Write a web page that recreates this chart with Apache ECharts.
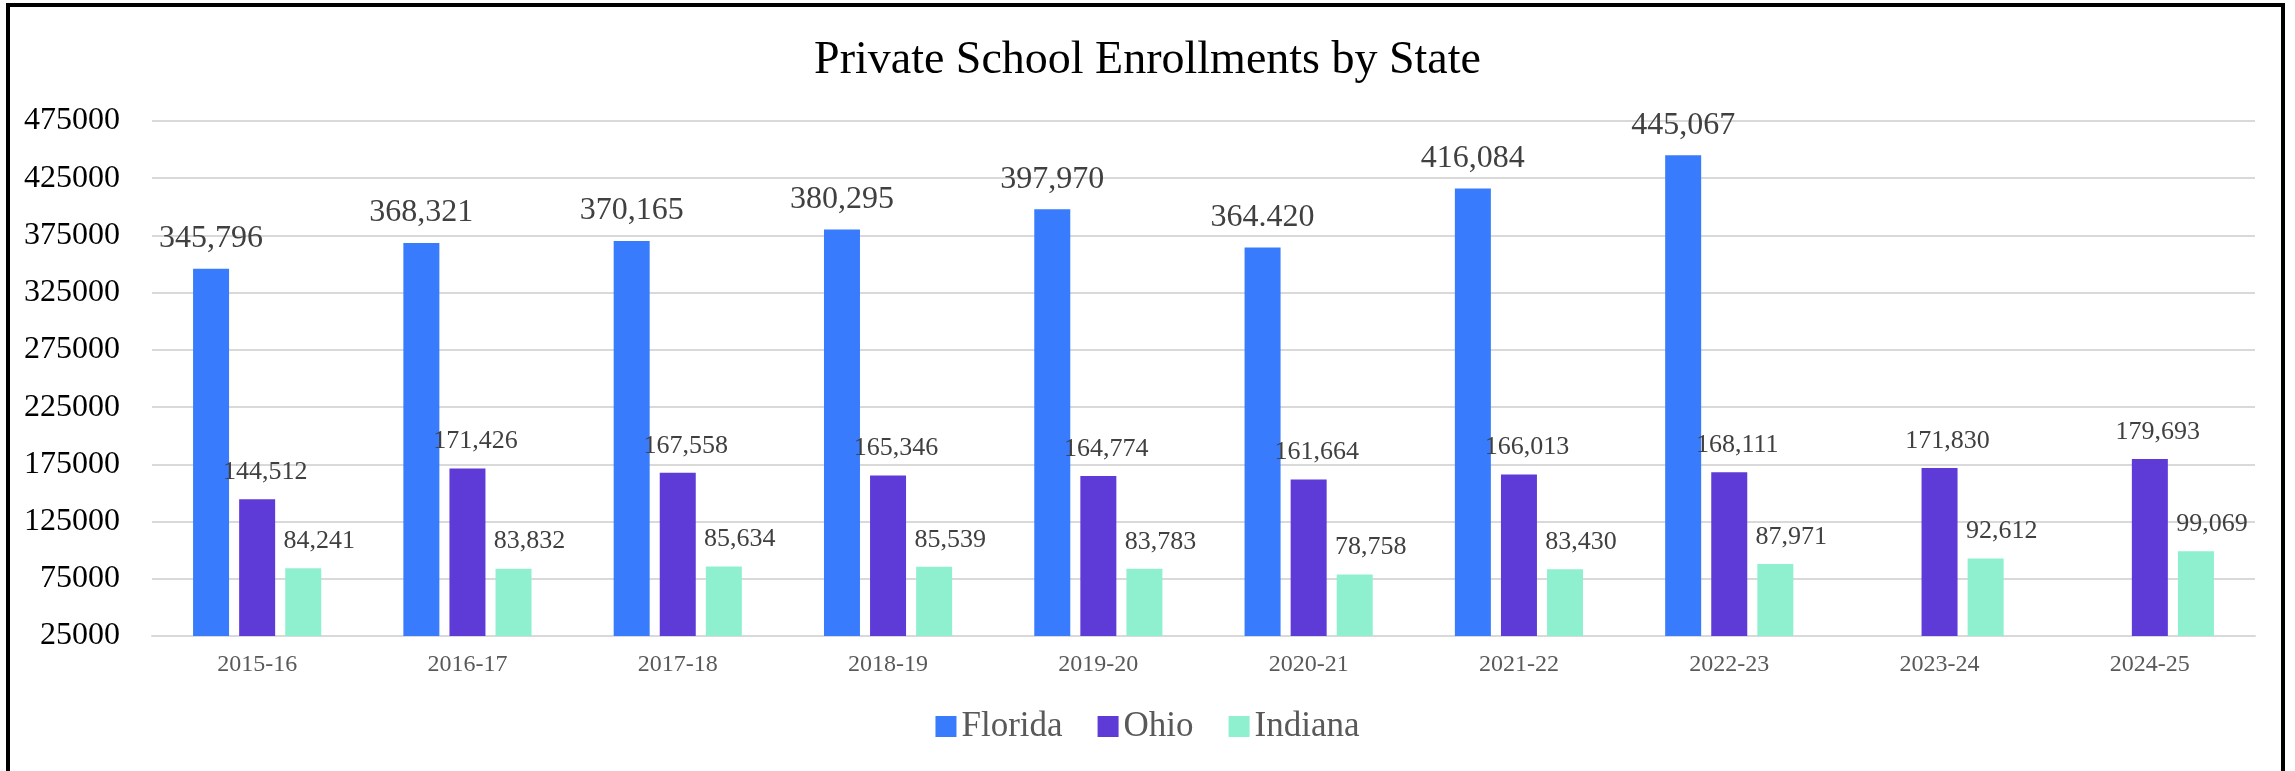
<!DOCTYPE html>
<html>
<head>
<meta charset="utf-8">
<title>Private School Enrollments by State</title>
<script src="https://cdn.jsdelivr.net/npm/echarts@6/dist/echarts.min.js"></script>
<style>
  html, body { margin: 0; padding: 0; background: #fff; }
  #chart { width: 2295px; height: 771px; }
  #frame {
    position: absolute; left: 6px; top: 3px; width: 2279px; height: 800px;
    border: 4px solid #000; border-bottom: none; box-sizing: border-box;
    pointer-events: none;
  }
</style>
</head>
<body>
<div id="chart"></div>
<div id="frame"></div>
<script>
  // school years on the x axis
  const years = ["2015-16", "2016-17", "2017-18", "2018-19", "2019-20",
                 "2020-21", "2021-22", "2022-23", "2023-24", "2024-25"];

  // enrollments (Florida has no value for the last two years)
  const florida = [345796, 368321, 370165, 380295, 397970, 364420, 416084, 445067, null, null];
  const ohio = [144512, 171426, 167558, 165346, 164774, 161664, 166013, 168111, 171830, 179693];
  const indiana = [84241, 83832, 85634, 85539, 83783, 78758, 83430, 87971, 92612, 99069];

  // label text as printed on the chart
  const floridaLabels = ["345,796", "368,321", "370,165", "380,295", "397,970",
                         "364.420", "416,084", "445,067", "", ""];
  const ohioLabels = ["144,512", "171,426", "167,558", "165,346", "164,774",
                      "161,664", "166,013", "168,111", "171,830", "179,693"];
  const indianaLabels = ["84,241", "83,832", "85,634", "85,539", "83,783",
                         "78,758", "83,430", "87,971", "92,612", "99,069"];

  const yTicks = { min: 25000, max: 475000, step: 50000 };

  const serif = "Liberation Serif";

  const makeSeries = (name, data, labels, color, fontSize, dx) => ({
    name: name,
    type: "bar",
    data: data,
    barWidth: 36,
    barGap: "28%",
    itemStyle: { color: color },
    label: {
      show: true,
      position: "top",
      distance: 14,
      offset: [dx, 0],
      fontFamily: serif,
      fontSize: fontSize,
      color: "#404040",
      formatter: (p) => labels[p.dataIndex],
    },
  });

  const mychart = echarts.init(document.getElementById("chart"));
  mychart.setOption({
    animation: false,
    textStyle: { fontFamily: serif },
    title: {
      text: "Private School Enrollments by State",
      left: "center",
      top: 38,
      padding: 0,
      textStyle: {
        fontFamily: serif,
        fontSize: 46,
        fontWeight: "normal",
        color: "#000",
      },
    },
    legend: {
      bottom: 22,
      left: "center",
      itemWidth: 21,
      itemHeight: 21,
      itemGap: 35,
      icon: "rect",
      textStyle: { fontFamily: serif, fontSize: 35, color: "#595959" },
      data: ["Florida", "Ohio", "Indiana"],
    },
    grid: { left: 152, right: 40, top: 121, bottom: 135 },
    xAxis: {
      type: "category",
      data: years,
      axisLine: { lineStyle: { color: "#d9d9d9", width: 2 } },
      axisTick: { show: false },
      axisLabel: { fontFamily: serif, fontSize: 24, color: "#595959", margin: 17 },
    },
    yAxis: {
      type: "value",
      min: yTicks.min,
      max: yTicks.max,
      interval: yTicks.step,
      axisLine: { show: false },
      axisTick: { show: false },
      splitLine: { lineStyle: { color: "#d9d9d9", width: 2 } },
      axisLabel: {
        fontFamily: serif,
        fontSize: 32,
        color: "#000",
        margin: 32,
        formatter: (v) => String(v),
      },
    },
    series: [
      makeSeries("Florida", florida, floridaLabels, "#387bfd", 32, 0),
      makeSeries("Ohio", ohio, ohioLabels, "#5e3ad6", 26, 8),
      makeSeries("Indiana", indiana, indianaLabels, "#8ff0cf", 26, 16),
    ],
  });
</script>
</body>
</html>
